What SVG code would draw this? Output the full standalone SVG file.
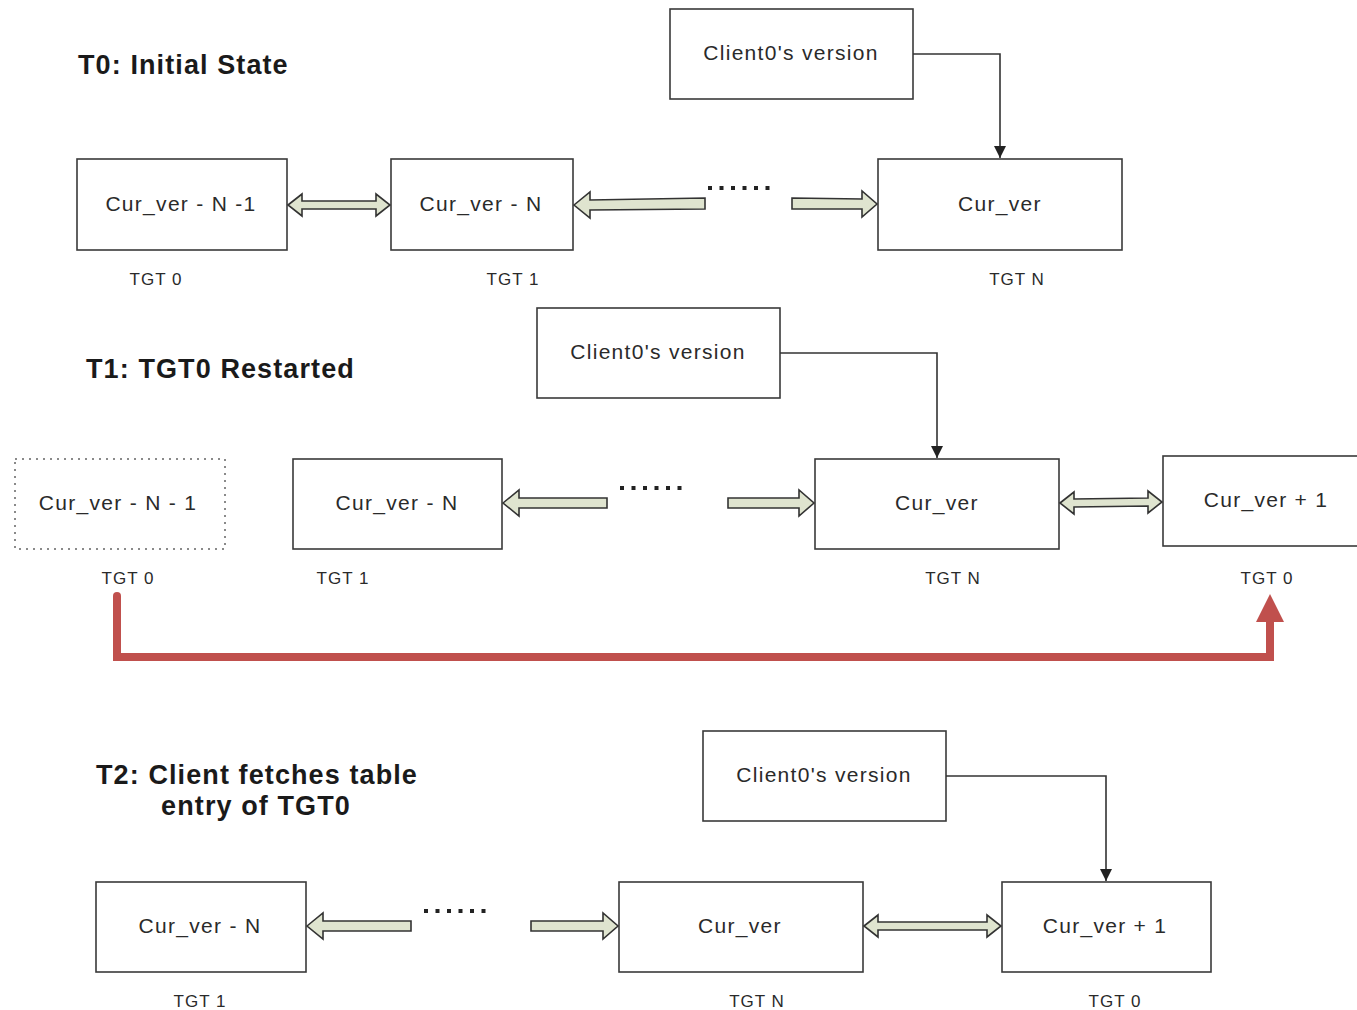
<svg xmlns="http://www.w3.org/2000/svg" width="1357" height="1010" viewBox="0 0 1357 1010">
<defs>
<style>
.box{fill:#fff;stroke:#3a3a3a;stroke-width:1.6}
.dbox{fill:#fff;stroke:#8a8a8a;stroke-width:2;stroke-dasharray:2 5}
.bt{font-family:"Liberation Sans",Arial,sans-serif;font-size:21px;fill:#2a2a2a;text-anchor:middle;letter-spacing:1.3px}
.lb{font-family:"Liberation Sans",Arial,sans-serif;font-size:17px;fill:#2a2a2a;text-anchor:middle;letter-spacing:1px}
.ti{font-family:"Liberation Sans",Arial,sans-serif;font-size:27px;font-weight:bold;fill:#1a1a1a;letter-spacing:1.1px}
.blk{fill:#dfe4cf;stroke:#333;stroke-width:1.6;stroke-linejoin:miter}
.con{fill:none;stroke:#333;stroke-width:1.6}
.dots{fill:none;stroke:#222;stroke-width:4;stroke-dasharray:4 7.5}
.red{fill:none;stroke:#c0504d;stroke-width:8;stroke-linejoin:miter}
</style>
<marker id="ah" viewBox="0 0 10 10" refX="10" refY="5" markerWidth="12" markerHeight="12" markerUnits="userSpaceOnUse" orient="auto">
<path d="M0,0 L10,5 L0,10 Z" fill="#222"/>
</marker>
</defs>

<g id="titles">
<text class="ti" x="78" y="74">T0: Initial State</text>
<text class="ti" x="86" y="378">T1: TGT0 Restarted</text>
<text class="ti" x="96" y="784">T2: Client fetches table</text>
<text class="ti" x="256" y="815" text-anchor="middle">entry of TGT0</text>
</g>

<!-- T0 -->
<g id="t0-client"><rect class="box" x="670" y="9" width="243" height="90"/><text class="bt" x="791" y="60">Client0's version</text></g>
<g id="t0-tgt0"><rect class="box" x="77" y="159" width="210" height="91"/><text class="bt" x="181" y="211">Cur_ver - N -1</text><text class="lb" x="156" y="285">TGT 0</text></g>
<g id="t0-tgt1"><rect class="box" x="391" y="159" width="182" height="91"/><text class="bt" x="481" y="211">Cur_ver - N</text><text class="lb" x="513" y="285">TGT 1</text></g>
<g id="t0-tgtn"><rect class="box" x="878" y="159" width="244" height="91"/><text class="bt" x="1000" y="211">Cur_ver</text><text class="lb" x="1017" y="285">TGT N</text></g>

<!-- T1 -->
<g id="t1-client"><rect class="box" x="537" y="308" width="243" height="90"/><text class="bt" x="658" y="359">Client0's version</text></g>
<g id="t1-tgt0-old"><rect class="dbox" x="15" y="459" width="210" height="90"/><text class="bt" x="118" y="510">Cur_ver - N - 1</text><text class="lb" x="128" y="584">TGT 0</text></g>
<g id="t1-tgt1"><rect class="box" x="293" y="459" width="209" height="90"/><text class="bt" x="397" y="510">Cur_ver - N</text><text class="lb" x="343" y="584">TGT 1</text></g>
<g id="t1-tgtn"><rect class="box" x="815" y="459" width="244" height="90"/><text class="bt" x="937" y="510">Cur_ver</text><text class="lb" x="953" y="584">TGT N</text></g>
<g id="t1-tgt0-new"><rect class="box" x="1163" y="456" width="210" height="90"/><text class="bt" x="1266" y="507">Cur_ver + 1</text><text class="lb" x="1267" y="584">TGT 0</text></g>

<!-- T2 -->
<g id="t2-client"><rect class="box" x="703" y="731" width="243" height="90"/><text class="bt" x="824" y="782">Client0's version</text></g>
<g id="t2-tgt1"><rect class="box" x="96" y="882" width="210" height="90"/><text class="bt" x="200" y="933">Cur_ver - N</text><text class="lb" x="200" y="1007">TGT 1</text></g>
<g id="t2-tgtn"><rect class="box" x="619" y="882" width="244" height="90"/><text class="bt" x="740" y="933">Cur_ver</text><text class="lb" x="757" y="1007">TGT N</text></g>
<g id="t2-tgt0"><rect class="box" x="1002" y="882" width="209" height="90"/><text class="bt" x="1105" y="933">Cur_ver + 1</text><text class="lb" x="1115" y="1007">TGT 0</text></g>

<g id="connectors">
<!-- client version pointers -->
<path class="con" d="M913,54 H1000 V158" marker-end="url(#ah)"/>
<path class="con" d="M780,353 H937 V458" marker-end="url(#ah)"/>
<path class="con" d="M946,776 H1106 V881" marker-end="url(#ah)"/>

<!-- T0 block arrows -->
<path class="blk" d="M288,205 L302,194 L302,201 L376,201 L376,194 L390,205 L376,216 L376,209 L302,209 L302,216 Z"/>
<path class="blk" d="M574,205 L590,192 L590,200 L705,198 L705,209 L590,210 L590,218 Z"/>
<path class="dots" d="M708,188 H769.5"/>
<path class="blk" d="M792,198 L862,199 L862,191 L877,204 L862,217 L862,209 L792,209 Z"/>

<!-- T1 block arrows -->
<path class="blk" d="M503,503 L519,490 L519,498 L607,498 L607,508 L519,508 L519,516 Z"/>
<path class="dots" d="M620,488 H681.5"/>
<path class="blk" d="M728,498 L799,498 L799,490 L814,503 L799,516 L799,508 L728,508 Z"/>
<path class="blk" d="M1060,503 L1074,492 L1074,499 L1148,498 L1148,491 L1162,502 L1148,513 L1148,506 L1074,507 L1074,514 Z"/>

<!-- T2 block arrows -->
<path class="blk" d="M307,926 L323,913 L323,921 L411,921 L411,931 L323,931 L323,939 Z"/>
<path class="dots" d="M424,911 H485.5"/>
<path class="blk" d="M531,921 L603,921 L603,913 L618,926 L603,939 L603,931 L531,931 Z"/>
<path class="blk" d="M864,926 L878,915 L878,922 L987,922 L987,915 L1001,926 L987,937 L987,930 L878,930 L878,937 Z"/>

<!-- red restart arrow -->
<path class="red" d="M117,596 V657 H1270 V618" stroke-linecap="butt"/>
<circle cx="117" cy="596" r="4" fill="#c0504d"/>
<path d="M1270,594 L1284,622 L1256,622 Z" fill="#c0504d"/>
</g>
</svg>
